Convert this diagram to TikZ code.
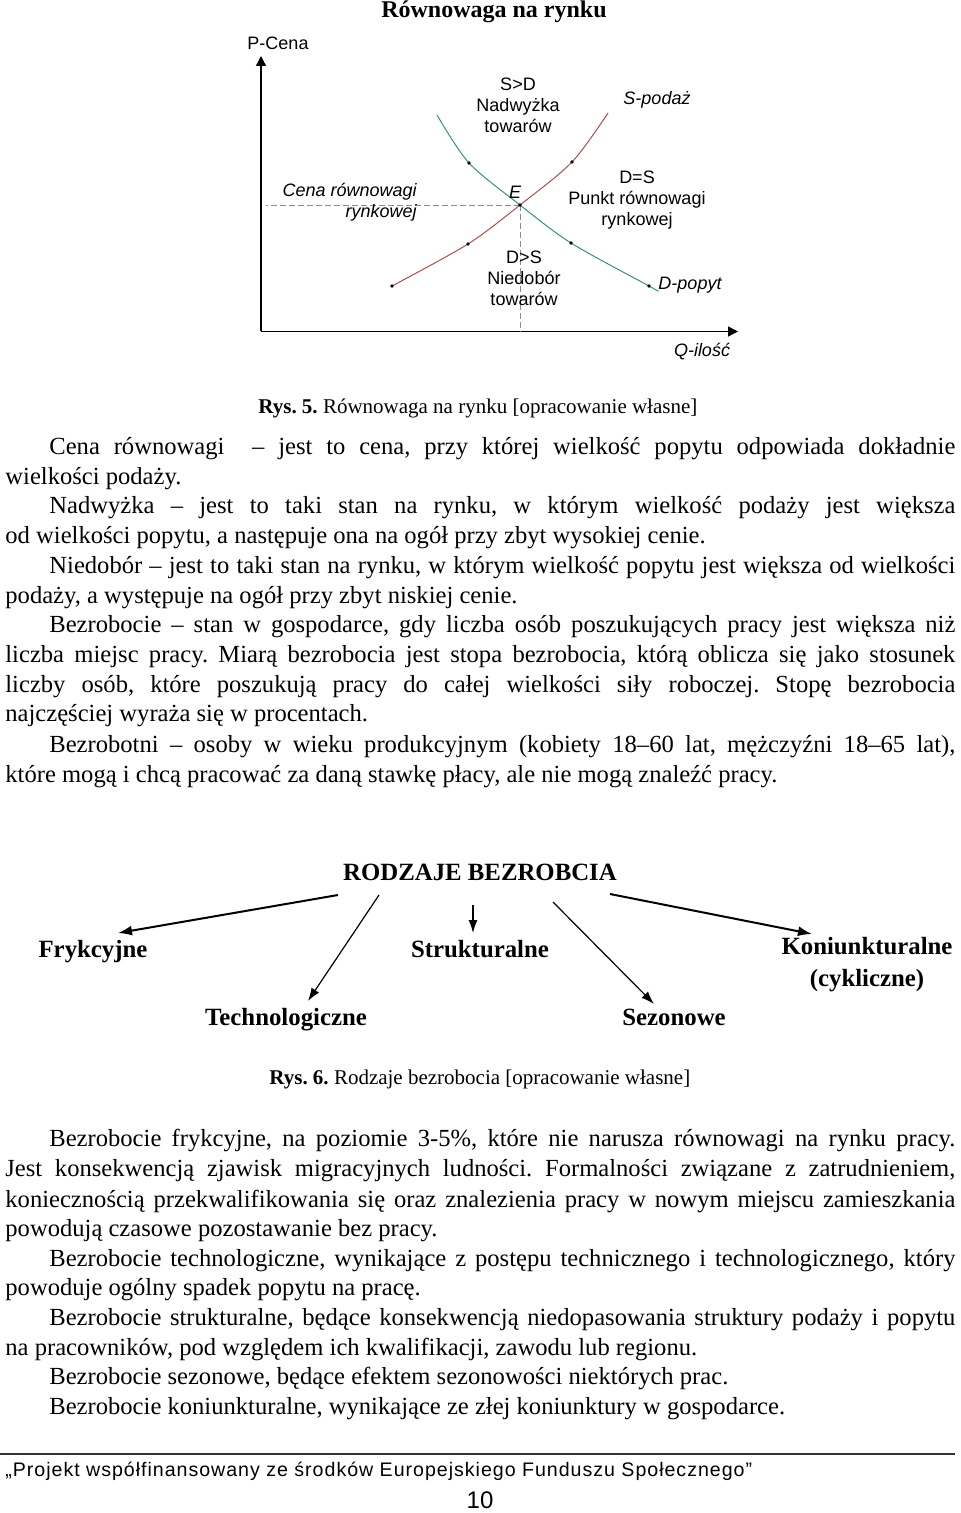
\documentclass[tikz,border=0pt]{standalone}
\usepackage{fontspec}
\setmainfont{Liberation Serif}
\setsansfont{Liberation Sans}
\newfontfamily\footfont[LetterSpace=5]{Liberation Sans}
\usetikzlibrary{calc, arrows, arrows.meta, positioning}
\frenchspacing

\definecolor{supplyred}{RGB}{178,78,78}
\definecolor{demandgreen}{RGB}{52,148,118}
\definecolor{dashgrey}{RGB}{140,140,140}

% justified lines of the page text
\newcommand{\fullline}[1]{\makebox[475pt][s]{#1}}
\newcommand{\indline}[1]{\makebox[453pt][s]{#1}}

\tikzset{
    txt/.style={anchor=base west, inner sep=0pt, font=\fontsize{12.3}{14}\selectfont},
    captxt/.style={anchor=base west, inner sep=0pt, font=\fontsize{10.5}{12}\selectfont},
    lbl/.style={inner sep=0pt, align=center, font=\sffamily\fontsize{9}{10.5}\selectfont},
    ilbl/.style={lbl, font=\sffamily\itshape\fontsize{9}{10.5}\selectfont},
    kind/.style={inner sep=0pt, align=center, font=\bfseries\fontsize{12.4}{16}\selectfont},
    dot/.style={circle, fill=black, inner sep=0pt, minimum size=1.8pt},
    axis/.style={line width=0.65pt, -{Triangle[length=5pt,width=5pt]}},
    heavyarrow/.style={line width=1pt, -{Latex[length=7pt,width=5pt]}},
    lightarrow/.style={line width=0.6pt, -{Latex[length=6.5pt,width=4.5pt]}},
}

\begin{document}
\begin{tikzpicture}[x=0.5pt, y=-0.5pt]
    \useasboundingbox[fill=white] (0,0) rectangle (960,1513);

    % wykres
    \node[font=\bfseries\fontsize{12}{14}\selectfont, inner sep=0pt] (title) at (494,12) {Równowaga na rynku};
    \coordinate (O) at (261,331.5);
    \coordinate (ytop) at (261,56);
    \coordinate (xend) at (738,331.5);
    \draw[axis] (O) -- (ytop);
    \draw[axis] (O) -- (xend);
    \node[lbl] (P) at (278,43) {P-Cena};
    \node[ilbl] (Q) at (702,352) {Q-ilość};

    \coordinate (s1) at (392,286);
    \coordinate (s2) at (468,244);
    \coordinate (E) at (520,205);
    \coordinate (s3) at (572,162);
    \coordinate (s4) at (608,113);
    \coordinate (d1) at (437,115);
    \coordinate (d2) at (469,163);
    \coordinate (d3) at (571,243);
    \coordinate (d4) at (649,286);
    \coordinate (d5) at (658,291);

    \draw[dashgrey, dash pattern=on 3pt off 1.5pt] (E) -- (E -| 266,0);
    \draw[dashgrey, dash pattern=on 3pt off 1.5pt] (E) -- (E |- O);
    \draw[supplyred, line width=0.5pt] plot[smooth] coordinates {(s1) (s2) (E) (s3) (s4)};
    \draw[demandgreen, line width=0.5pt] plot[smooth] coordinates {(d1) (d2) (E) (d3) (d4) (d5)};
    \foreach \p in {s1,s2,E,s3,d2,d3,d4}
        \node[dot] at (\p) {};

    \node[lbl] (surplus) at (518,105) {S>D\\Nadwyżka\\towarów};
    \node[ilbl] (Slab) at (657,100) {S-podaż};
    \node[ilbl, anchor=east, align=right] (cena) at (417,202) {Cena równowagi\\rynkowej};
    \node[ilbl] (Elab) at (515,192) {E};
    \node[lbl] (eq) at (637,200) {D=S\\Punkt równowagi\\rynkowej};
    \node[lbl] (shortage) at (524,278) {D>S\\Niedobór\\towarów};
    \node[ilbl] (Dlab) at (690,285) {D-popyt};

    \node[captxt] (cap5) at (258,414) {\textbf{Rys. 5.} Równowaga na rynku [opracowanie własne]};

    % definicje
    \node[txt] (a1) at (49,454) {\indline{Cena równowagi~~– jest to cena, przy której wielkość popytu odpowiada dokładnie}};
    \node[txt] (a2) at (5,484) {wielkości podaży.};
    \node[txt] (a3) at (49,513) {\indline{Nadwyżka – jest to taki stan na rynku, w którym wielkość podaży jest większa}};
    \node[txt] (a4) at (5,543) {od wielkości popytu, a następuje ona na ogół przy zbyt wysokiej cenie.};
    \node[txt] (a5) at (49,573) {\indline{Niedobór – jest to taki stan na rynku, w którym wielkość popytu jest większa od wielkości}};
    \node[txt] (a6) at (5,603) {podaży, a występuje na ogół przy zbyt niskiej cenie.};
    \node[txt] (a7) at (49,632) {\indline{Bezrobocie – stan w gospodarce, gdy liczba osób poszukujących pracy jest większa niż}};
    \node[txt] (a8) at (5,662) {\fullline{liczba miejsc pracy. Miarą bezrobocia jest stopa bezrobocia, którą oblicza się jako stosunek}};
    \node[txt] (a9) at (5,692) {\fullline{liczby osób, które poszukują pracy do całej wielkości siły roboczej. Stopę bezrobocia}};
    \node[txt] (a10) at (5,721) {najczęściej wyraża się w procentach.};
    \node[txt] (a11) at (49,752) {\indline{Bezrobotni – osoby w wieku produkcyjnym (kobiety 18–60 lat, mężczyźni 18–65 lat),}};
    \node[txt] (a12) at (5,782) {które mogą i chcą pracować za daną stawkę płacy, ale nie mogą znaleźć pracy.};

    % rodzaje bezrobocia
    \node[kind, anchor=base] (rodzaje) at (480,880) {RODZAJE BEZROBCIA};
    \node[kind, anchor=base] (fryk) at (93,957) {Frykcyjne};
    \node[kind, anchor=base] (tech) at (286,1025) {Technologiczne};
    \node[kind, anchor=base] (strukt) at (480,957) {Strukturalne};
    \node[kind, anchor=base] (sezon) at (674,1025) {Sezonowe};
    \node[kind] (koniunk) at (867,965) {Koniunkturalne\\(cykliczne)};

    \draw[heavyarrow] ($(rodzaje.base)+(-142,15)$) -- ($(fryk.base)+(25,-24)$);
    \draw[lightarrow] ($(rodzaje.base)+(-101,15)$) -- ($(tech.base)+(22,-24)$);
    \draw[lightarrow] ($(rodzaje.base)+(-7,25)$) -- ($(strukt.base)+(-7,-24)$);
    \draw[lightarrow] ($(rodzaje.base)+(73,22)$) -- ($(sezon.base)+(-20,-21)$);
    \draw[heavyarrow] ($(rodzaje.base)+(130,14)$) -- ($(koniunk.center)+(-55,-31)$);

    \node[captxt] (cap6) at (269,1084) {\textbf{Rys. 6.} Rodzaje bezrobocia [opracowanie własne]};

    % opisy
    \node[txt] (b1) at (49,1146) {\indline{Bezrobocie frykcyjne, na poziomie 3-5\%, które nie narusza równowagi na rynku pracy.}};
    \node[txt] (b2) at (5,1176) {\fullline{Jest konsekwencją zjawisk migracyjnych ludności. Formalności związane z zatrudnieniem,}};
    \node[txt] (b3) at (5,1207) {\fullline{koniecznością przekwalifikowania się oraz znalezienia pracy w nowym miejscu zamieszkania}};
    \node[txt] (b4) at (5,1236) {powodują czasowe pozostawanie bez pracy.};
    \node[txt] (b5) at (49,1266) {\indline{Bezrobocie technologiczne, wynikające z postępu technicznego i technologicznego, który}};
    \node[txt] (b6) at (5,1295) {powoduje ogólny spadek popytu na pracę.};
    \node[txt] (b7) at (49,1325) {\indline{Bezrobocie strukturalne, będące konsekwencją niedopasowania struktury podaży i popytu}};
    \node[txt] (b8) at (5,1355) {na pracowników, pod względem ich kwalifikacji, zawodu lub regionu.};
    \node[txt] (b9) at (49,1384) {Bezrobocie sezonowe, będące efektem sezonowości niektórych prac.};
    \node[txt] (b10) at (49,1414) {Bezrobocie koniunkturalne, wynikające ze złej koniunktury w gospodarce.};

    % stopka
    \draw[line width=1pt, black!80] (0,1454) -- (955,1454);
    \node[anchor=base west, inner sep=0pt, font=\footfont\fontsize{9.8}{12}\selectfont] (foot) at (5,1476) {„Projekt współfinansowany ze środków Europejskiego Funduszu Społecznego”};
    \node[anchor=base, inner sep=0pt, font=\sffamily\fontsize{12}{14}\selectfont] (page) at (480,1508) {10};
\end{tikzpicture}
\end{document}
